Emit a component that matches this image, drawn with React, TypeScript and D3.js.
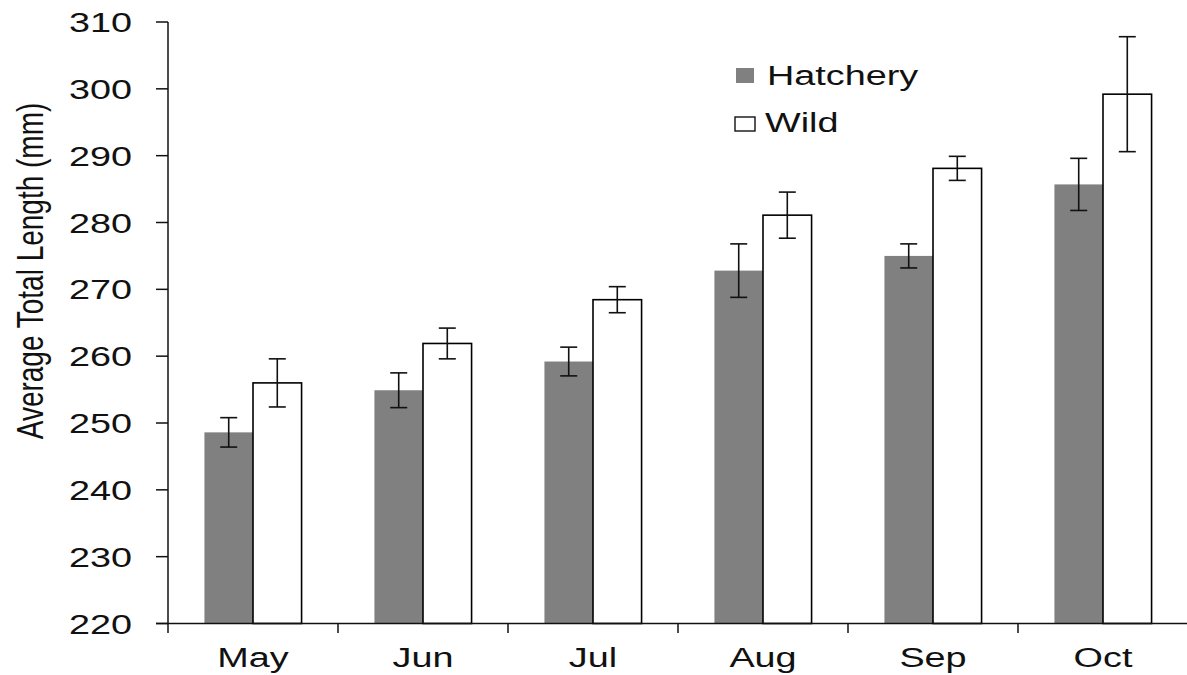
import React from "react";
import * as d3 from "d3";

const months = ["May", "Jun", "Jul", "Aug", "Sep", "Oct"];
const seriesNames = ["Hatchery", "Wild"];
const hatchery = [248.6, 254.9, 259.2, 272.8, 275.0, 285.7];
const hatcheryErr = [2.2, 2.6, 2.15, 4.0, 1.8, 3.9];
const wild = [256.0, 261.9, 268.45, 281.1, 288.1, 299.2];
const wildErr = [3.6, 2.3, 1.95, 3.45, 1.8, 8.6];
const yTicks = [220, 230, 240, 250, 260, 270, 280, 290, 300, 310];
const yTitle = "Average Total Length (mm)";

const W = 1187;
const H = 675;
const SX = 1.35;
const FONT = "'Liberation Sans', Arial, Helvetica, sans-serif";

export default function App() {
  const y = d3.scaleLinear().domain([220, 310]).range([623.5, 22]);
  const x0 = d3.scaleBand<string>().domain(months).range([168, 1188]).padding(0);
  const x1 = d3
    .scaleBand<string>()
    .domain(seriesNames)
    .range([0, x0.bandwidth()])
    .paddingInner(0)
    .paddingOuter(0.75);
  const bw = x1.bandwidth();
  const series = [
    { name: "Hatchery", vals: hatchery, errs: hatcheryErr, fill: "#808080", stroke: "none" },
    { name: "Wild", vals: wild, errs: wildErr, fill: "#ffffff", stroke: "#000" },
  ];
  const cap = 8.5;
  const axisY = y(220);

  const sText = (
    key: string,
    tx: number,
    ty: number,
    label: string,
    anchor: string,
    size = 28
  ) => (
    <text
      key={key}
      transform={`translate(${tx},${ty}) scale(${SX},1)`}
      textAnchor={anchor as any}
      fontFamily={FONT}
      fontSize={size}
      fill="#111"
    >
      {label}
    </text>
  );

  return (
    <svg
      width={W}
      height={H}
      style={{ position: "absolute", left: 0, top: 0, background: "#fff" }}
    >
      <rect x={0} y={0} width={W} height={H} fill="#fff" />
      {/* bars */}
      {series.map((s) =>
        months.map((m, i) => {
          const bx = (x0(m) as number) + (x1(s.name) as number);
          const top = y(s.vals[i]);
          return (
            <rect
              key={s.name + m}
              x={bx}
              y={top}
              width={bw}
              height={axisY - top}
              fill={s.fill}
              stroke={s.stroke}
              strokeWidth={s.stroke === "none" ? 0 : 1.6}
            />
          );
        })
      )}
      {/* error bars */}
      {series.map((s) =>
        months.map((m, i) => {
          const cx = (x0(m) as number) + (x1(s.name) as number) + bw / 2;
          const hi = y(s.vals[i] + s.errs[i]);
          const lo = y(s.vals[i] - s.errs[i]);
          return (
            <g key={"e" + s.name + m} stroke="#111" strokeWidth={1.6}>
              <line x1={cx} x2={cx} y1={hi} y2={lo} />
              <line x1={cx - cap} x2={cx + cap} y1={hi} y2={hi} />
              <line x1={cx - cap} x2={cx + cap} y1={lo} y2={lo} />
            </g>
          );
        })
      )}
      {/* y axis */}
      <line x1={168} x2={168} y1={y(310)} y2={633} stroke="#111" strokeWidth={1.5} />
      {yTicks.map((t) => (
        <g key={"yt" + t}>
          <line x1={156} x2={168} y1={y(t)} y2={y(t)} stroke="#111" strokeWidth={1.5} />
          {sText("ytl" + t, 132, y(t) + 10, String(t), "end")}
        </g>
      ))}
      {/* x axis */}
      <line x1={156} x2={W} y1={axisY} y2={axisY} stroke="#111" strokeWidth={1.5} />
      {months.map((m) => (
        <g key={"xt" + m}>
          <line
            x1={(x0(m) as number) + x0.bandwidth()}
            x2={(x0(m) as number) + x0.bandwidth()}
            y1={axisY}
            y2={633}
            stroke="#111"
            strokeWidth={1.5}
          />
          {sText("xl" + m, (x0(m) as number) + x0.bandwidth() / 2, 667, m, "middle")}
        </g>
      ))}
      {/* y title */}
      <text
        transform={`translate(43,271) scale(${SX},1) rotate(-90)`}
        textAnchor="middle"
        fontFamily={FONT}
        fontSize={28}
        fill="#111"
      >
        {yTitle}
      </text>
      {/* legend */}
      <rect x={736} y={68} width={18} height={15} fill="#808080" />
      {sText("lg1", 767, 85, seriesNames[0], "start")}
      <rect x={735} y={117} width={20} height={14} fill="#fff" stroke="#111" strokeWidth={1.4} />
      {sText("lg2", 765, 132, seriesNames[1], "start")}
    </svg>
  );
}
